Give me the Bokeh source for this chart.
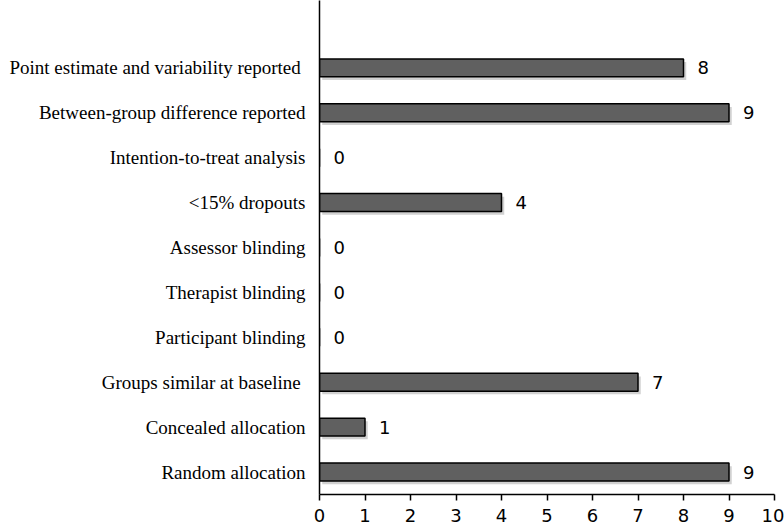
from bokeh.plotting import figure
from bokeh.models import ColumnDataSource, Range1d, FixedTicker, CDSView, BooleanFilter
from bokeh.core.properties import value
from bokeh.embed import file_html
from bokeh.resources import INLINE

categories = [
    "Random allocation",
    "Concealed allocation",
    "Groups similar  at baseline",
    "Participant blinding",
    "Therapist blinding",
    "Assessor blinding",
    "<15% dropouts",
    "Intention-to-treat analysis",
    "Between-group difference reported",
    "Point estimate and variability  reported",
]
counts = [9, 1, 7, 0, 0, 0, 4, 0, 9, 8]
x_ticks = list(range(0, 11))

pos = list(range(len(categories)))
src = ColumnDataSource(dict(
    y=pos,
    val=counts,
    lab=[str(v) for v in counts],
))

p = figure(
    width=784, height=524,
    y_range=Range1d(-0.5, len(categories) + 0.5),
    x_range=Range1d(0, 10),
    output_backend="svg", toolbar_location=None,
    min_border_left=319, min_border_right=10, min_border_top=0, min_border_bottom=30,
)
p.outline_line_color = None
p.background_fill_color = "white"
p.border_fill_color = "white"
p.xgrid.visible = False
p.ygrid.visible = False

# soft drop shadow under the bars
sh = ColumnDataSource(dict(
    y=[i - 0.07 for i in pos],
    right=[v + 0.06 for v in counts],
    left=[0.06 for _ in counts],
))
view = CDSView(filter=BooleanFilter([v > 0 for v in counts]))
p.hbar(y="y", left="left", right="right", height=0.4, source=sh, view=view,
       fill_color="#bdbdbd", fill_alpha=0.7, line_color=None)

p.hbar(y="y", left=0, right="val", height=0.4, source=src,
       fill_color="#606060", line_color="black", line_width=1.5)

p.text(x="val", y="y", text="lab", source=src, x_offset=14,
       text_align="left", text_baseline="middle",
       text_font=value("DejaVu Sans"), text_font_size="18px", text_color="black")

p.xaxis.ticker = FixedTicker(ticks=x_ticks)
p.xaxis.minor_tick_line_color = None
p.xaxis.major_tick_in = 0
p.xaxis.major_tick_out = 6
p.xaxis.axis_line_color = "black"
p.xaxis.axis_line_width = 1.5
p.xaxis.major_tick_line_width = 1.5
p.xaxis.major_label_text_font = "DejaVu Sans"
p.xaxis.major_label_text_font_size = "18px"
p.xaxis.major_label_text_color = "black"
p.xaxis.major_label_standoff = 8

p.yaxis.ticker = FixedTicker(ticks=pos)
p.yaxis.major_label_overrides = {i: c for i, c in zip(pos, categories)}
p.yaxis.major_tick_in = 0
p.yaxis.major_tick_out = 0
p.yaxis.minor_tick_line_color = None
p.yaxis.axis_line_color = "black"
p.yaxis.axis_line_width = 1.5
p.yaxis.major_label_text_font = "Liberation Serif"
p.yaxis.major_label_text_font_size = "19px"
p.yaxis.major_label_text_color = "black"
p.yaxis.major_label_standoff = 14

open("out.html", "w").write(file_html(p, INLINE))
